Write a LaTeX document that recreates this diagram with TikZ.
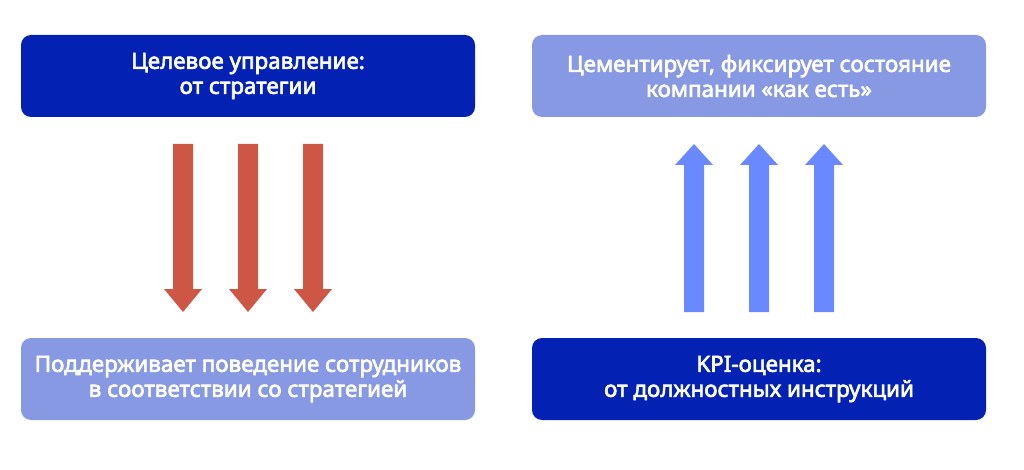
\documentclass[tikz,border=0pt]{standalone}
\usepackage{fontspec}
\usetikzlibrary{calc}
\newfontfamily\boxfont{Noto Sans}[FakeBold=2.8]
\definecolor{darkblue}{HTML}{0322B4}
\definecolor{lightblue}{HTML}{8799E3}
\definecolor{redarr}{HTML}{CD5744}
\definecolor{bluearr}{HTML}{6A88FF}
\begin{document}
\begin{tikzpicture}[x=1pt,y=-1pt,
  box/.style={rounded corners=10pt, minimum width=454pt, minimum height=82pt, inner sep=0pt,
    text=white, align=center, font=\boxfont\fontsize{22.4}{25}\selectfont},
  darkbox/.style={box, fill=darkblue},
  lightbox/.style={box, fill=lightblue}]
\useasboundingbox (0,0) rectangle (1024,470);
\node[darkbox] (tl) at (248,76) {Целевое управление:\\от стратегии};
\node[lightbox] (tr) at (759,76) {Цементирует, фиксирует состояние\\компании «как есть»};
\node[lightbox] (bl) at (248,379) {Поддерживает поведение сотрудников\\в соответствии со стратегией};
\node[darkbox] (br) at (759,379) {KPI-оценка:\\от должностных инструкций};
% down arrows (red)
\foreach \cx/\n in {183/a,248/b,313/c}{
  \coordinate (d\n) at (\cx,144);
  \fill[redarr] ($(d\n)+(-10,0)$) -- ++(20,0) -- ++(0,145) -- ++(9,0) -- ($(d\n)+(0,168)$) -- ++(-19,-23) -- ++(9,0) -- cycle;
}
% up arrows (blue)
\foreach \cx/\n in {694/a,759/b,824/c}{
  \coordinate (u\n) at (\cx,312);
  \fill[bluearr] ($(u\n)+(-10,0)$) -- ++(20,0) -- ++(0,-147) -- ++(9,0) -- ($(u\n)+(0,-168)$) -- ++(-19,21) -- ++(9,0) -- cycle;
}
\end{tikzpicture}
\end{document}
